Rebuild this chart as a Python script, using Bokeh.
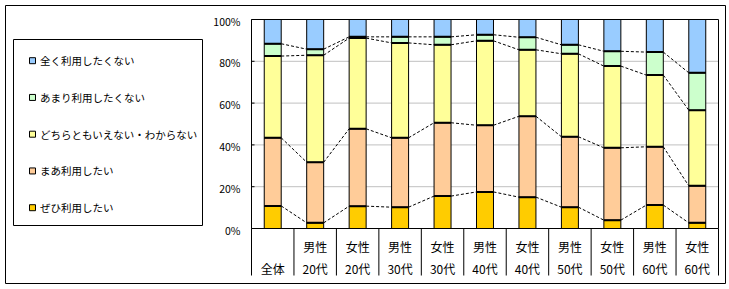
from bokeh.plotting import figure
from bokeh.models import Range1d, ColumnDataSource
from bokeh.core.properties import value
from bokeh.embed import file_html
from bokeh.resources import INLINE

# ---------------- data ----------------
groups_top = ["", "男性", "女性", "男性", "女性", "男性", "女性", "男性", "女性", "男性", "女性"]
groups_bottom = ["全体", "20代", "20代", "30代", "30代", "40代", "40代", "50代", "50代", "60代", "60代"]

series_names = ["ぜひ利用したい", "まあ利用したい", "どちらともいえない・わからない",
                "あまり利用したくない", "全く利用したくない"]
series_colors = ["#FFCC00", "#FFCC99", "#FFFF99", "#CCFFCC", "#99CCFF"]

zehi = [10.8, 2.7, 10.7, 10.2, 15.5, 17.5, 15.0, 10.2, 4.0, 11.2, 2.7]
maa = [32.6, 29.0, 37.0, 33.2, 35.1, 31.9, 38.7, 33.7, 34.6, 27.9, 17.7]
dochira = [39.1, 51.2, 43.4, 45.4, 37.3, 40.4, 31.8, 39.7, 39.1, 34.3, 36.2]
amari = [5.9, 2.9, 0.6, 2.9, 3.8, 2.9, 6.0, 4.3, 7.1, 11.0, 17.9]
mattaku = [11.6, 14.2, 8.3, 8.3, 8.3, 7.3, 8.5, 12.1, 15.2, 15.6, 25.5]

y_ticks = [0, 20, 40, 60, 80, 100]
y_tick_labels = ["0%", "20%", "40%", "60%", "80%", "100%"]

# ---------------- layout (page pixels) ----------------
W, H = 728, 288
OX, OY = 0, 0
PL, PR, PT, PB = 251, 718, 19, 228
n = len(groups_bottom)
cw = (PR - PL) / n
ph = (PB - PT) / 100.0


def X(px):
    return (px - PL) / cw - 0.5


def Y(py):
    return (PB - py) / ph


FONT = value("Noto Sans CJK JP")

p = figure(width=W, height=H, output_backend="svg", toolbar_location=None,
           x_range=Range1d(X(OX), X(OX + W)), y_range=Range1d(Y(OY + H), Y(OY)),
           min_border=0, x_axis_location=None, y_axis_location=None, title=None)
p.grid.visible = False
p.outline_line_color = None
p.background_fill_color = "white"
p.border_fill_color = "white"

# outer chart border
p.quad(left=[X(5)], right=[X(725)], top=[Y(5)], bottom=[Y(283)], fill_color=None,
       line_color="black", line_width=1)

xs = list(range(n))
keys = ["zehi", "maa", "dochira", "amari", "mattaku"]
data = dict(x=xs, zehi=zehi, maa=maa, dochira=dochira, amari=amari, mattaku=mattaku)
src = ColumnDataSource(data)

# gridlines
grid_vals = [v for v in y_ticks if 0 < v < 100]
p.segment(x0=[-0.5] * len(grid_vals), x1=[n - 0.5] * len(grid_vals), y0=grid_vals, y1=grid_vals,
          line_color="#C0C0C0", line_width=1)

bw = 0.40
# cumulative tops
cums = []
acc = [0.0] * n
for arr in [zehi, maa, dochira, amari]:
    acc = [a + b for a, b in zip(acc, arr)]
    cums.append(acc)

# dashed series lines
for c in cums:
    p.segment(x0=[i + bw / 2 for i in range(n - 1)], x1=[i + 1 - bw / 2 for i in range(n - 1)],
              y0=c[:-1], y1=c[1:], line_color="black", line_width=1, line_dash="3 2")

p.vbar_stack(keys, x="x", width=bw, color=series_colors, source=src,
             line_color="black", line_width=1)

for c in cums:
    p.segment(x0=[i - bw / 2 for i in range(n)], x1=[i + bw / 2 for i in range(n)],
              y0=c, y1=c, line_color="black", line_width=2)

# plot area border
p.quad(left=[-0.5], right=[n - 0.5], bottom=[0], top=[100], fill_color=None,
       line_color="black", line_width=1)

# y ticks (inward) and labels
p.segment(x0=[-0.5] * len(y_ticks), x1=[X(PL + 3)] * len(y_ticks), y0=y_ticks, y1=y_ticks,
          line_color="black", line_width=1)
p.text(x=[X(240)] * len(y_ticks), y=y_ticks, text=y_tick_labels, text_font=FONT,
       text_font_size="10.5px", text_align="right", text_baseline="middle", y_offset=1.5,
       text_color="black")

# category separators
seps = [i - 0.5 for i in range(n + 1)]
p.segment(x0=seps, x1=seps, y0=[0] * len(seps), y1=[Y(275)] * len(seps),
          line_color="black", line_width=1)

# category labels
p.text(x=xs, y=[Y(246)] * n, text=groups_top, text_font=FONT, text_font_size="12px",
       text_align="center", text_baseline="middle", text_color="black")
p.text(x=xs, y=[Y(268)] * n, text=groups_bottom, text_font=FONT, text_font_size="12px",
       text_align="center", text_baseline="middle", text_color="black")

# legend (manual)
p.quad(left=[X(13)], right=[X(202)], top=[Y(39)], bottom=[Y(225)], fill_color="white",
       line_color="black", line_width=1)
leg_names = series_names[::-1]
leg_colors = series_colors[::-1]
leg_y = [Y(60.2 + 36.75 * k) for k in range(len(leg_names))]
p.scatter(x=[X(32)] * len(leg_names), y=leg_y, marker="square", size=6,
          fill_color=leg_colors, line_color="black", line_width=1)
p.text(x=[X(39.5)] * len(leg_names), y=leg_y, text=leg_names, text_font=FONT,
       text_font_size="10.5px", text_align="left", text_baseline="middle", text_color="black")

open("out.html", "w").write(file_html(p, INLINE))
